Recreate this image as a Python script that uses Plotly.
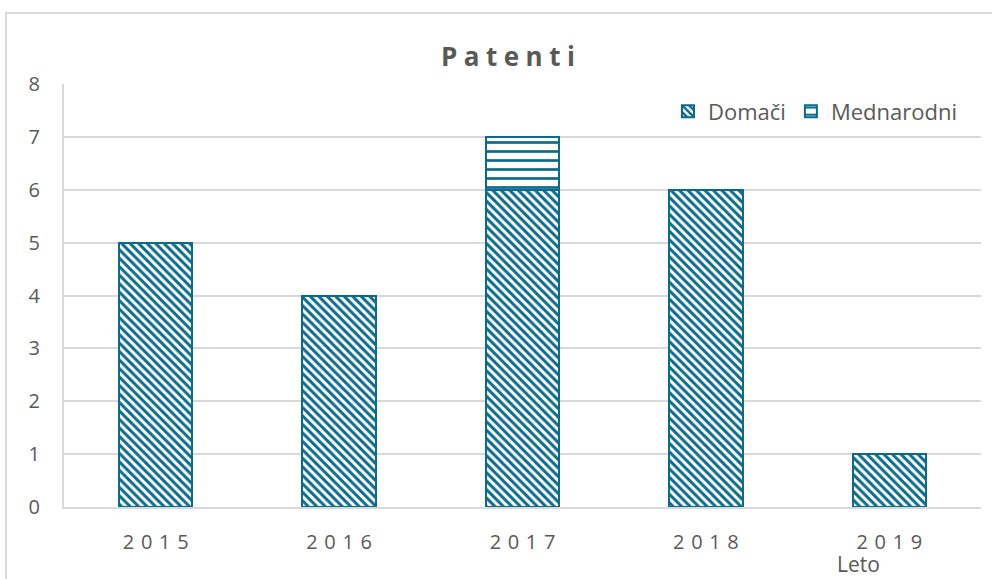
import plotly.graph_objects as go

years = ["2015", "2016", "2017", "2018", "2019"]
domaci = [5, 4, 6, 6, 1]
mednarodni = [0, 0, 1, 0, 0]
y_ticks = [0, 1, 2, 3, 4, 5, 6, 7, 8]

color = "#0A6B8C"
gray = "#595959"


def spaced(s, sp):
    return sp.join(list(s))


fig = go.Figure()
fig.add_trace(go.Bar(
    x=years, y=domaci, name="Domači",
    marker=dict(color="white", line=dict(color=color, width=2),
                pattern=dict(shape="\\", fgcolor=color, bgcolor="white",
                             size=6, solidity=0.5, fillmode="replace")),
))
fig.add_trace(go.Bar(
    x=years, y=mednarodni, name="Mednarodni",
    marker=dict(color="white", line=dict(color=color, width=2),
                pattern=dict(shape="-", fgcolor=color, bgcolor="white",
                             size=9, solidity=0.3, fillmode="replace")),
))

fig.update_layout(
    barmode="stack",
    bargap=0.6,
    width=992, height=579,
    margin=dict(l=64, r=11, t=84, b=72),
    paper_bgcolor="white", plot_bgcolor="white",
    font=dict(family="Open Sans", color=gray, size=20),
    title=dict(text="<b>" + spaced("Patenti", "\u2005") + "</b>", x=0.512, xanchor="center",
               y=1 - 57 / 579, yanchor="middle",
               font=dict(size=26, color=gray, family="Open Sans")),
    legend=dict(orientation="h", x=(962 - 64) / 917, xanchor="right", y=0.985, yanchor="top",
                font=dict(size=22, color=gray), bgcolor="rgba(0,0,0,0)",
                traceorder="normal", itemwidth=30),
    showlegend=True,
    xaxis=dict(tickmode="array", tickvals=years, ticktext=[spaced(y, "\u2004") for y in years],
               showgrid=False, showline=True, linecolor="#D9D9D9", linewidth=2,
               ticks="", tickfont=dict(size=20, color=gray), ticklabelstandoff=16),
    yaxis=dict(range=[0, 8], tickvals=y_ticks, showgrid=True, gridcolor="#D9D9D9",
               gridwidth=2, showline=True, linecolor="#D9D9D9", linewidth=2,
               ticks="", zeroline=False, tickfont=dict(size=20, color=gray),
               ticklabelstandoff=18),
    annotations=[dict(text="Leto", xref="paper", yref="paper", x=(858 - 64) / 917,
                      y=-(564 - 507) / 423, xanchor="center", yanchor="middle",
                      showarrow=False, font=dict(size=21, color=gray))],
    shapes=[dict(type="rect", xref="paper", yref="paper",
                 x0=-(64 - 6) / 917, x1=1.05, y0=-0.3, y1=1 + (84 - 13) / 423,
                 line=dict(color="#D9D9D9", width=2), layer="below")],
)

fig.write_html("out.html", config={"displayModeBar": False},
               post_script="document.body.style.margin='0';document.body.style.padding='0';")
